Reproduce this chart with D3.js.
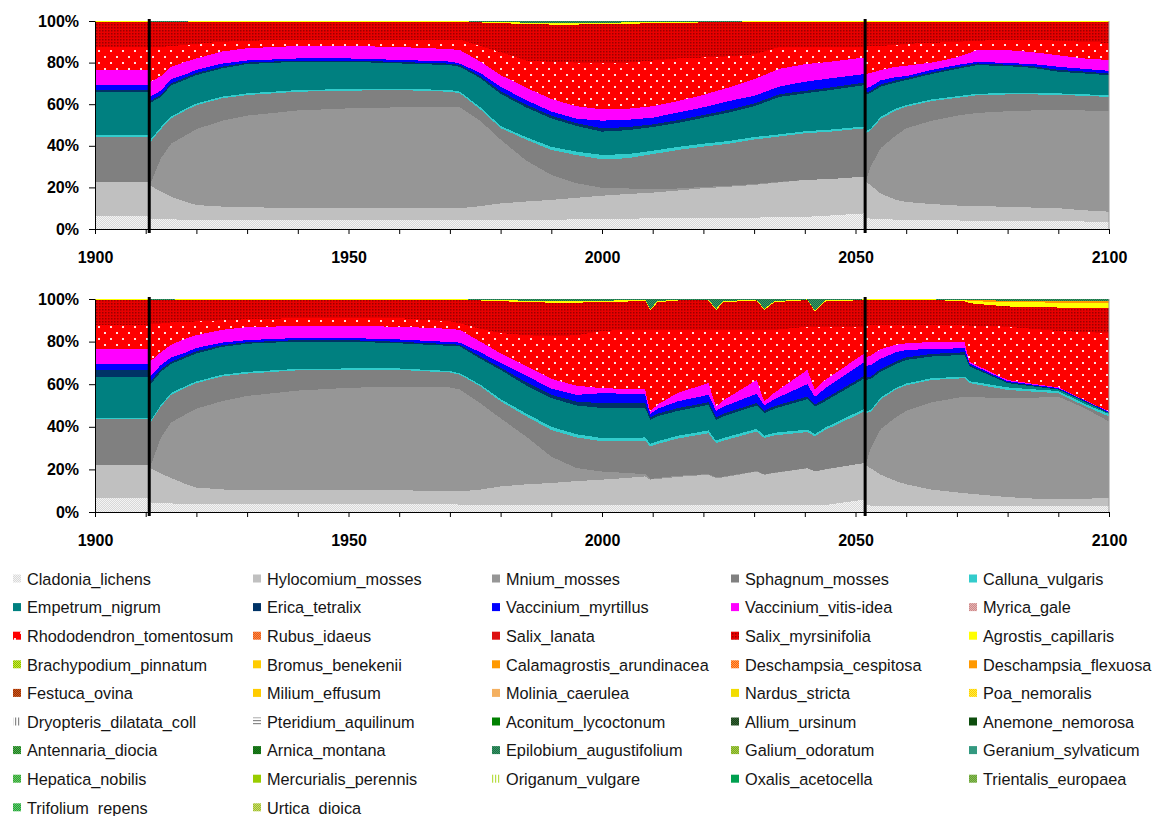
<!DOCTYPE html>
<html>
<head>
<meta charset="utf-8">
<script src="https://cdn.jsdelivr.net/npm/d3@7"></script>
<style>
body { margin:0; background:#fff; }
svg { display:block; font-family: Arial, "Liberation Sans", sans-serif; }
.axis text { font-size:16px; font-weight:bold; fill:#000; }
.axis path, .axis line { stroke:#000; }
.legend text { font-size:16.3px; fill:#151515; }
</style>
</head>
<body>
<div id="viz"></div>
<script>
// species, in legend order
var species = ["Cladonia_lichens","Hylocomium_mosses","Mnium_mosses","Sphagnum_mosses","Calluna_vulgaris",
  "Empetrum_nigrum","Erica_tetralix","Vaccinium_myrtillus","Vaccinium_vitis-idea","Myrica_gale",
  "Rhododendron_tomentosum","Rubus_idaeus","Salix_lanata","Salix_myrsinifolia","Agrostis_capillaris",
  "Brachypodium_pinnatum","Bromus_benekenii","Calamagrostis_arundinacea","Deschampsia_cespitosa","Deschampsia_flexuosa",
  "Festuca_ovina","Milium_effusum","Molinia_caerulea","Nardus_stricta","Poa_nemoralis",
  "Dryopteris_dilatata_coll","Pteridium_aquilinum","Aconitum_lycoctonum","Allium_ursinum","Anemone_nemorosa",
  "Antennaria_diocia","Arnica_montana","Epilobium_augustifolium","Galium_odoratum","Geranium_sylvaticum",
  "Hepatica_nobilis","Mercurialis_perennis","Origanum_vulgare","Oxalis_acetocella","Trientalis_europaea",
  "Trifolium_repens","Urtica_dioica"];

var speciesColors = ["#d8d8d8","#c0c0c0","#969696","#808080","#33cccc",
  "#008080","#003366","#0000ff","#ff00ff","#cc8a8a",
  "#ff0000","#e8581c","#dd1010","#e80000","#ffff00",
  "#ccee33","#ffcc00","#ff9900","#ff6600","#ff9900",
  "#993300","#ffcc00","#f4b060","#f2dc00","#ffee44",
  "#888888","#888888","#008000","#1a3d1a","#0d4d0d",
  "#1a801a","#1a801a","#339966","#77aa22","#339980",
  "#33a033","#99cc00","#b8dd44","#00a050","#66a033",
  "#20a040","#99bb33"];

// "" = solid, otherwise pattern kind
var patternTypes = ["checker","","","","",
  "","","","","checker",
  "dots","checker","","fine","",
  "checker","","","checker","",
  "checker","","","","checker",
  "vstripe","hstripe","","checker","",
  "checker","checker","checker","checker","",
  "checker","","vstripe","","checker",
  "checker","checker"];

var patternAlt = ["#f4f4f4","","","","",
  "","","","","#e6b3b3",
  "#ffe0e0","#ff8c40","","#9a0000","",
  "#88bb00","","","#ff9955","",
  "#cc5522","","","","#ffcc00",
  "#ffffff","#ffffff","","#336633","",
  "#55aa55","#116611","#1f6b45","#aacc44","",
  "#66cc66","","#ffffff","","#88bb55",
  "#66cc66","#ccdd66"];

// ---- upper chart (shares in %) ----
var yearsTop = [1900,1910.6,1910.8,1913,1915,1918,1920,1925,1930,1940,
  1950,1960,1970,1972,1976,1980,1985,1990,1995,2000,
  2005,2010,2015,2020,2025,2030,2035,2040,2045,2051.8,
  2052,2053,2055,2058,2060,2065,2070,2074,2080,2085,
  2090,2095,2100];
var cladoniaTop = [6.2,6.2,5,4.8,4.6,4.5,4.5,4.4,4.3,4.3, 4.3,4.3,4.3,4.3,4.3,4.3,4.4,4.5,4.6,4.8, 5,5.1,5.2,5.3,5.4,5.5,5.6,5.8,6.5,7.5, 5.2,5,4.8,4.5,4.3,4.2,4.1,4,3.9,3.8, 3.7,3.6,3.5];
var hylocomiumTop = [16.5,16.5,16,13.2,10.9,8.5,7,6.4,6.1,5.9, 5.7,5.7,5.7,5.7,6.7,8,8.8,9.5,10.4,11.2, 11.8,12.4,13.3,14.3,14.9,15.7,16.8,17.8,17.5,17.7, 17.8,16,12.2,9.5,8.7,7.8,7.2,7,6.8,6.5, 6.3,5.4,4.8];
var mniumTop = [0,0,0,16,25.5,32.2,36.5,41.2,44.1,46.8, 48,48.5,48.5,48.5,41,30.7,19.8,12,7,3.8, 2.7,1.5,1,0.6,0.5,0.4,0.3,0,0,0, 0,9,22,31,35.4,40,43.2,44.8,45.9,46.7, 47.2,48,48.1];
var sphagnumTop = [21.5,21.5,20.5,14,12.2,12,11.5,10.8,9.9,9, 8.5,8.3,7.5,6.7,5.5,5.5,10,12,13.5,13.7, 14.5,17,18.5,19.4,20.2,21.4,21.8,22.4,22.8,23.2, 23,17.5,14,12,10.4,9.5,8.5,8.5,8.1,7.7, 7.3,7,6.9];
var callunaTop = [0.8,0.8,1,1,0.8,0.8,0.8,0.8,0.8,0.8, 0.8,0.7,0.8,0.8,1,1,1.2,1.5,1.7,2.1, 2,1.6,1.5,1.4,1.3,1.2,1,1,1,0.9, 0.8,0.8,1,1,0.8,0.8,0.8,0.7,0.7,0.7, 0.7,0.8,0.7];
var empetrumTop = [21,21,18,14.5,15,14,13.7,13.6,14.1,13.6, 13.1,12.1,12,12,14,15.5,14.3,13.7,12.3,11.2, 11.5,11.4,11.5,12.5,13.7,14.8,18,18.2,19,19.9, 17.7,17.2,14.5,12.5,12,12.2,13.2,13.8,12.9,12.1, 10.4,10,9.7];
var ericaTop = [1,1,1,1,1,1,1,0.8,0.7,0.6, 0.6,0.7,0.7,0.8,1,1.2,1.3,1.3,1.3,1.6, 1.5,1.3,1.3,1.3,1.3,1.3,1.3,1.2,1.2,1.2, 1,1,1,1,0.9,0.8,0.8,0.8,0.7,0.8, 0.9,0.9,0.8];
var myrtillusTop = [2.4,2.4,2,2,2,1.5,1.5,1.5,1,1, 1,1,1,0.7,1.5,2.2,2.2,2,2.2,3.7, 3.5,3.2,3.7,3.7,4.2,3.7,3.7,4.4,4.4,4.1, 2,2,2,1.5,1,1.2,1,0.8,0.8,1, 1.5,1.3,1.3];
var vitisTop = [6.9,6.9,7,7,6,6,5.5,5.8,5.9,6, 6,6.2,6,6.5,5.5,5.6,6,6,6,5.4, 5.3,5.5,5.5,6,6.5,8,8.5,8.4,8,8, 7,6.5,5,5,5,3.5,3.7,5.6,6.2,5.7, 5.5,5,5.2];
var rhodoTop = [11.4,11.4,17,14,10,8,7,4.7,3.6,3, 3,3.5,4.5,5,7.5,11,13,17.9,21,22.1, 22.2,22,20.5,18,15,12,10.5,8.5,7.3,5.2, 13.5,13,11.5,10.5,10.5,9.5,7.5,4.5,5,6, 7,8,8.2];
var salixTop = [11.8,11.8,11.8,11.8,11.3,10.9,10.5,9.5,9,8.5, 8.5,8.5,8.5,8.5,11.3,14,17.5,17.9,18.3,18.9, 18.6,18,17.2,16.8,16.4,15.5,12,11.8,11.8,11.8, 11.5,11.5,11.5,11,10.5,10,9.5,9,8.5,8.5, 9,9.5,10];
var agrostisTop = [0.3,0.3,0.4,0.4,0.4,0.35,0.3,0.3,0.3,0.3, 0.3,0.3,0.3,0.3,0.4,0.5,0.7,0.8,0.8,0.7, 0.7,0.5,0.4,0.4,0.3,0.3,0.3,0.3,0.3,0.3, 0.3,0.3,0.3,0.3,0.3,0.3,0.3,0.3,0.3,0.3, 0.3,0.3,0.3];
var epilobiumTop = [0.2,0.2,0.3,0.3,0.3,0.25,0.2,0.2,0.2,0.2, 0.2,0.2,0.2,0.2,0.3,0.5,0.8,0.9,0.9,0.8, 0.7,0.5,0.4,0.3,0.3,0.2,0.2,0.2,0.2,0.2, 0.2,0.2,0.2,0.2,0.2,0.2,0.2,0.2,0.2,0.2, 0.2,0.2,0.2];

// ---- lower chart ----
var yearsBottom = [1900,1910.6,1910.8,1913,1915,1918,1920,1925,1930,1940,
  1950,1960,1970,1972,1976,1980,1985,1990,1995,2000,
  2005,2008.5,2009.5,2011,2015,2021,2022.5,2024,2030.5,2032,
  2034,2040.5,2042,2044,2051.8,2052,2053,2055,2058,2060,
  2065,2071.5,2072.5,2080,2085,2090,2095,2100];
var cladoniaBottom = [6.6,6.6,4.5,4.2,4,3.9,3.9,3.9,3.9,3.8, 3.8,3.7,3.6,3.5,3.5,3.4,3.4,3.4,3.4,3.4, 3.4,3.4,3.4,3.4,3.4,3.4,3.4,3.4,3.4,3.4, 3.4,3.3,3.3,3.3,5.8,3.5,3,2.9,2.8,2.8, 2.8,2.7,2.7,2.7,2.7,2.7,2.7,2.7];
var hylocomiumBottom = [15.6,15.6,16.1,13.8,12,9.1,7.6,6.7,6.3,6.4, 6.4,6.5,6.2,6.2,7,8.6,9.6,10.2,11.1,11.8, 12.6,13.3,11.8,12.1,13.1,14.1,12.5,12.9,15.6,14.1, 14.9,17.2,15.7,16.7,17.2,18.5,17.5,14.6,11.7,10.2, 7.7,6.1,5.9,4.3,3.6,3.3,3.5,3.9];
var mniumBottom = [0,0,0,17,26,33,37,41.4,44.3,46.8, 48.1,48.7,48.7,47.8,40.5,32,22.5,12.4,6.1,3.8, 2.3,1.1,0.3,0.5,0.5,0.3,0.3,0.3,0.2,0.2, 0.2,0.1,0.1,0.1,0,0,9.5,21.5,30,34.5, 41,45.4,45.4,46.4,47.3,48.2,42.8,35.9];
var sphagnumBottom = [21.4,21.4,20.9,14.5,13,12.5,12,11.6,10.5,9.5, 8.4,7.8,7,6.9,8,8,9.5,12.5,14.4,14.2, 14.9,15.7,15.3,16,17.5,19.2,16.1,16.9,18.6,17, 17.5,16.9,16.4,18.4,24.2,24.4,17,14,13,12, 10.5,8.6,6.5,3.9,2.9,1.6,1,2.3];
var callunaBottom = [0.7,0.7,0.8,0.8,0.8,0.8,0.8,0.8,0.8,0.7, 0.7,0.7,0.7,0.7,0.8,1,1.3,1.5,1.5,1.5, 1.5,1.5,1.2,1.3,1.3,1.3,1.2,1.3,1.2,1.1, 1.2,1.2,1.1,1.1,1.3,0.8,0.8,0.8,0.8,0.8, 0.8,0.8,0.9,1.2,1.1,1,1,1.2];
var empetrumBottom = [19.3,19.3,17.2,15.6,13.7,13.2,13.2,13.1,13.2,12.8, 12.6,11.8,11.8,12.6,12.2,13.7,13.2,13.5,13.5,14.1, 14.1,14,11.3,11.7,11.7,12,9.8,10.2,11,10.6, 11.3,14.3,12.9,12.4,14.3,14.8,14.7,12.2,11.2,11.1, 10.2,10.2,6.9,2,1.4,0.7,1,0.4];
var ericaBottom = [2.9,2.9,1.5,1.1,1,1,1,0.8,0.7,0.7, 0.7,0.7,0.8,0.8,1,1.1,1.5,1.5,1.8,2.3, 2.3,2.2,1.2,1.2,1.3,1.2,1.2,1.2,1.2,1.1, 1.2,1.2,1,1.2,1.2,1,1,1.2,1.2,1.2, 1.2,1.2,0.7,0.5,0.4,0.3,0.3,0.2];
var myrtillusBottom = [3.1,3.1,2.5,2,2,1.5,1.5,1.2,1,1, 1,1.1,1,1,2,2.2,3,3,3.2,4.7, 4.4,4,1.5,2.3,3.2,3.5,3,3.3,4.3,2.5, 3.3,5.8,3.5,4.8,6.5,5.5,5.5,4.8,4.3,3.5, 2.3,1.9,0.7,0.5,0.4,0.4,0.3,0.4];
var vitisBottom = [6.8,6.8,7,6,6,6.5,6,6,6.1,5.6, 5.6,6,6.2,6,5,4.5,4.5,4.5,4.3,2.3, 2.3,2.3,1.2,2,4,5.5,2,3,6.5,1.9, 3,6.7,3.3,4,4,4,4.5,4.5,3.5,3.1, 3.3,3.1,0.8,0.5,0.4,0.3,0.2,0.2];
var rhodoBottom = [11.4,11.4,17.5,13.5,10.5,7.5,6.5,4.5,3.7,3.7, 3.7,4,3.5,3.1,6,9.5,14.5,20,23.7,26.9, 27.7,28,38.3,35,29.5,25,36,33,23.5,33.6, 29.5,20.3,29.7,25,12.5,15.5,14.5,11.5,9.5,8.8, 8.2,8,17,25,25.8,26.5,31.7,36.8];
var salixBottom = [11.7,11.7,11.3,10.8,10.4,10.5,10,9.5,9,8.5, 8.5,8.5,10,10.9,13.3,15,15.5,15.8,15.3,13.5, 13.3,13.8,9.3,13,13.8,13.8,9.3,13,13.8,9.3, 13,12.5,7,11.8,12.5,11.5,11.5,11.5,11.5,11.5, 11.5,11,10.5,9.5,10.2,11,11.3,11.6];
var agrostisBottom = [0.3,0.3,0.4,0.4,0.35,0.3,0.3,0.3,0.3,0.3, 0.3,0.3,0.3,0.3,0.4,0.5,0.7,0.8,0.8,0.7, 0.6,0.4,0.5,0.5,0.4,0.4,0.5,0.5,0.4,0.5, 0.5,0.3,0.5,0.5,0.3,0.3,0.3,0.3,0.3,0.3, 0.3,0.5,1,2,2.2,2.3,2.5,2.6];
var flexuosaBottom = [0,0,0,0,0,0,0,0,0,0, 0,0,0,0,0,0,0,0,0,0, 0,0,0,0,0,0,0,0,0,0, 0,0,0,0,0,0,0,0,0,0, 0,0,0.5,0.7,0.7,0.7,0.7,0.7];
var epilobiumBottom = [0.2,0.2,0.3,0.3,0.25,0.2,0.2,0.2,0.2,0.2, 0.2,0.2,0.2,0.2,0.3,0.5,0.8,0.9,0.9,0.8, 0.6,0.3,4.7,1,0.3,0.3,4.7,1,0.3,4.7, 1,0.2,5.5,0.7,0.2,0.2,0.2,0.2,0.2,0.2, 0.2,0.5,0.5,0.8,0.9,1,1,1.1];

var disturbanceYears = [1910.7, 2051.9];
var yTicks = [0, 0.2, 0.4, 0.6, 0.8, 1];
var xTicks = [1900,1910,1920,1930,1940,1950,1960,1970,1980,1990,2000,2010,2020,2030,2040,2050,2060,2070,2080,2090,2100];
var xLabels = [1900, 1950, 2000, 2050, 2100];

var topTable = {
  "Cladonia_lichens": cladoniaTop, "Hylocomium_mosses": hylocomiumTop, "Mnium_mosses": mniumTop,
  "Sphagnum_mosses": sphagnumTop, "Calluna_vulgaris": callunaTop, "Empetrum_nigrum": empetrumTop,
  "Erica_tetralix": ericaTop, "Vaccinium_myrtillus": myrtillusTop, "Vaccinium_vitis-idea": vitisTop,
  "Rhododendron_tomentosum": rhodoTop, "Salix_myrsinifolia": salixTop, "Agrostis_capillaris": agrostisTop,
  "Epilobium_augustifolium": epilobiumTop
};
var bottomTable = {
  "Cladonia_lichens": cladoniaBottom, "Hylocomium_mosses": hylocomiumBottom, "Mnium_mosses": mniumBottom,
  "Sphagnum_mosses": sphagnumBottom, "Calluna_vulgaris": callunaBottom, "Empetrum_nigrum": empetrumBottom,
  "Erica_tetralix": ericaBottom, "Vaccinium_myrtillus": myrtillusBottom, "Vaccinium_vitis-idea": vitisBottom,
  "Rhododendron_tomentosum": rhodoBottom, "Salix_myrsinifolia": salixBottom, "Agrostis_capillaris": agrostisBottom,
  "Deschampsia_flexuosa": flexuosaBottom, "Epilobium_augustifolium": epilobiumBottom
};

var svg = d3.select("#viz").append("svg")
    .attr("width", 1153).attr("height", 816);
svg.append("rect").attr("width", 1153).attr("height", 816).attr("fill", "#fff");

// patterns
var defs = svg.append("defs");
species.forEach(function(name, i) {
  var t = patternTypes[i];
  if (!t) return;
  var c = speciesColors[i], a = patternAlt[i];
  var p = defs.append("pattern").attr("id", "p" + i).attr("patternUnits", "userSpaceOnUse");
  if (t === "dots") {
    // white dots, staggered rows
    p.attr("width", 12).attr("height", 12);
    p.append("rect").attr("width", 12).attr("height", 12).attr("fill", c);
    p.append("rect").attr("x", 2).attr("y", 2).attr("width", 2).attr("height", 2).attr("fill", a);
    p.append("rect").attr("x", 8).attr("y", 8).attr("width", 2).attr("height", 2).attr("fill", a);
  } else if (t === "fine") {
    p.attr("width", 3).attr("height", 3);
    p.append("rect").attr("width", 3).attr("height", 3).attr("fill", c);
    p.append("rect").attr("width", 1.5).attr("height", 1.5).attr("fill", a);
  } else if (t === "checker") {
    p.attr("width", 2).attr("height", 2);
    p.append("rect").attr("width", 2).attr("height", 2).attr("fill", c);
    p.append("rect").attr("width", 1).attr("height", 1).attr("fill", a);
    p.append("rect").attr("x", 1).attr("y", 1).attr("width", 1).attr("height", 1).attr("fill", a);
  } else if (t === "vstripe") {
    p.attr("width", 3).attr("height", 3);
    p.append("rect").attr("width", 3).attr("height", 3).attr("fill", a);
    p.append("rect").attr("width", 1.2).attr("height", 3).attr("fill", c);
  } else if (t === "hstripe") {
    p.attr("width", 3).attr("height", 3);
    p.append("rect").attr("width", 3).attr("height", 3).attr("fill", a);
    p.append("rect").attr("width", 3).attr("height", 1.2).attr("fill", c);
  }
});
function fillOf(name) {
  var i = species.indexOf(name);
  return patternTypes[i] ? "url(#p" + i + ")" : speciesColors[i];
}

var x = d3.scaleLinear().domain([1900, 2100]).range([95, 1109]);

function drawChart(years, table, top, bottom) {
  var keys = species.filter(function(s) { return table[s]; });
  var rows = years.map(function(yr, i) {
    var r = { year: yr };
    keys.forEach(function(k) { r[k] = table[k][i]; });
    return r;
  });
  var y = d3.scaleLinear().domain([0, 1]).range([bottom, top]);
  var stack = d3.stack().keys(keys).offset(d3.stackOffsetExpand);
  var area = d3.area()
      .x(function(d) { return x(d.data.year); })
      .y0(function(d) { return y(d[0]); })
      .y1(function(d) { return y(d[1]); });

  var g = svg.append("g");
  g.selectAll("path.layer")
    .data(stack(rows))
    .enter().append("path")
      .attr("class", "layer")
      .attr("d", area)
      .attr("fill", function(d) { return fillOf(d.key); })
      .attr("shape-rendering", "crispEdges");

  // right edge of plot area
  g.append("line")
    .attr("x1", x(2100)).attr("x2", x(2100))
    .attr("y1", y(1)).attr("y2", y(0))
    .attr("stroke", "#9a9a9a");

  g.append("g").attr("class", "axis")
    .attr("transform", "translate(" + x(1900) + ",0)")
    .call(d3.axisLeft(y).tickValues(yTicks).tickFormat(d3.format(".0%"))
      .tickSize(6).tickPadding(10).tickSizeOuter(0));

  g.append("g").attr("class", "axis")
    .attr("transform", "translate(0," + bottom + ")")
    .call(d3.axisBottom(x).tickValues(xTicks)
      .tickFormat(function(d) { return xLabels.indexOf(d) >= 0 ? d : ""; })
      .tickSize(5).tickPadding(18).tickSizeOuter(0));

  // disturbance lines
  g.selectAll("line.dist")
    .data(disturbanceYears)
    .enter().append("line")
      .attr("class", "dist")
      .attr("x1", function(d) { return x(d); })
      .attr("x2", function(d) { return x(d); })
      .attr("y1", top - 2).attr("y2", bottom + 4)
      .attr("stroke", "#000").attr("stroke-width", 3);
}

drawChart(yearsTop, topTable, 21, 229);
drawChart(yearsBottom, bottomTable, 299, 512);

// legend
var colX = [13, 253, 492, 731, 969];
var legend = svg.append("g").attr("class", "legend");
species.forEach(function(name, i) {
  var cx = colX[i % 5], cy = 579 + Math.floor(i / 5) * 28.6;
  legend.append("rect")
    .attr("x", cx).attr("y", cy - 4.5)
    .attr("width", 8).attr("height", 8)
    .attr("fill", fillOf(name));
  legend.append("text")
    .attr("x", cx + 14).attr("y", cy)
    .attr("dy", "0.35em")
    .text(name);
});
</script>
</body>
</html>
